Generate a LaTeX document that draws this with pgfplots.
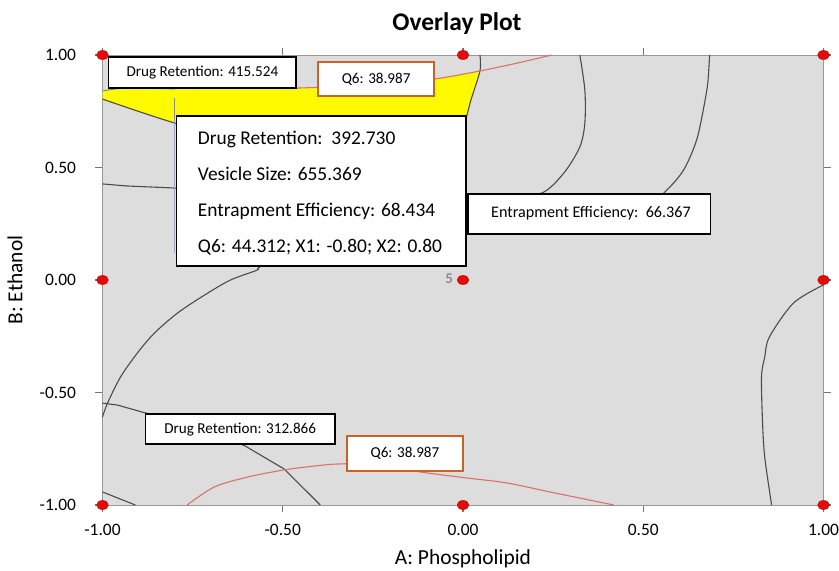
\documentclass[border=0pt]{standalone}
\usepackage{pgfplots}
\pgfplotsset{compat=1.18}
\usepackage{fontspec}
\setmainfont{Carlito}
\definecolor{plotbg}{RGB}{221,221,221}
\definecolor{contour}{RGB}{75,75,75}
\definecolor{qline}{RGB}{215,115,105}
\definecolor{qbox}{RGB}{200,100,35}
\definecolor{flag}{RGB}{160,165,200}
\definecolor{ptred}{RGB}{230,10,10}
\begin{document}
\begin{tikzpicture}
\path[use as bounding box] (3bp,0) rectangle (842bp,571bp);
\begin{axis}[
  at={(105.5bp,66bp)}, anchor=south west,
  scale only axis, width=721bp, height=450bp,
  xmin=-1, xmax=1, ymin=-1, ymax=1,
  clip=false,
  axis background/.style={fill=plotbg},
  axis line style={draw=black!40, line width=0.9pt},
  xtick={-1,-0.5,0,0.5,1}, xticklabels={-1.00,-0.50,0.00,0.50,1.00},
  ytick={-1,-0.5,0,0.5,1}, yticklabels={-1.00,-0.50,0.00,0.50,1.00},
  tick align=outside, major tick length=7bp,
  tick style={draw=black!55, line width=1.1pt},
  ticklabel style={font=\fontsize{17.5}{20}\selectfont},
  xticklabel style={yshift=-9bp},
  yticklabel style={xshift=-16bp},
]
% feasible (yellow) region
\addplot[fill={rgb,255:red,255;green,250;blue,0}, draw=none] coordinates {
 (-1,0.844) (-1,0.80) (-0.903,0.749) (-0.80,0.698) (-0.80,0.667)
 (0.011,0.667) (0.011,0.733) (0.022,0.80) (0.047,0.929)
 (-0.017,0.911) (-0.080,0.893) (-0.238,0.867) (-0.460,0.853)
 (-0.737,0.849) (-0.903,0.849) (-1,0.844)} -- cycle;
% contour lines
\addplot[contour, line width=1.1pt, smooth] coordinates {(-1,0.804) (-0.903,0.751) (-0.80,0.698) (-0.70,0.66)};
\addplot[contour!70, line width=0.9pt, smooth] coordinates {(-1,0.840) (-0.934,0.853) (-0.80,0.849)};
\addplot[contour, line width=1.1pt, smooth] coordinates {(0.047,1) (0.047,0.929) (0.022,0.80) (0.011,0.733) (-0.003,0.667)};
\addplot[contour, line width=1.1pt] coordinates {(-1,0.427) (-0.934,0.418) (-0.803,0.409) (-0.75,0.40)};
\addplot[contour, line width=1.1pt, smooth] coordinates {
 (-1.0,-0.609) (-0.986,-0.547) (-0.950,-0.431) (-0.903,-0.324) (-0.856,-0.236)
 (-0.792,-0.147) (-0.717,-0.067) (-0.645,0.0) (-0.571,0.044) (-0.551,0.067)
 (-0.321,0.2) (-0.044,0.333) (0.122,0.378) (0.219,0.387) (0.280,0.476)
 (0.324,0.591) (0.338,0.698) (0.338,0.844) (0.324,1.0)};
\addplot[contour, line width=1.1pt, smooth] coordinates {
 (0.482,0.289) (0.560,0.391) (0.612,0.489) (0.648,0.622) (0.668,0.769) (0.679,0.876) (0.684,1.0)};
\addplot[contour, line width=1.1pt, smooth] coordinates {
 (1.0,-0.022) (0.917,-0.102) (0.850,-0.253) (0.837,-0.342) (0.828,-0.431)
 (0.831,-0.636) (0.837,-0.787) (0.856,-1.0)};
\addplot[contour, line width=1.1pt] coordinates {
 (-1.0,-0.547) (-0.958,-0.556) (-0.881,-0.591) (-0.75,-0.64) (-0.604,-0.738) (-0.496,-0.840) (-0.396,-1.0)};
\addplot[contour, line width=1.1pt] coordinates {(-1,-0.942) (-0.909,-1.0)};
% Q6 contours
\addplot[qline, line width=1.1pt, smooth] coordinates {
 (0.247,1) (0.150,0.964) (0.047,0.929) (-0.080,0.893) (-0.24,0.867) (-0.46,0.853)};
\addplot[qline, line width=1.1pt, smooth] coordinates {
 (-0.765,-1.0) (-0.690,-0.920) (-0.598,-0.876) (-0.496,-0.844) (-0.413,-0.827)
 (-0.349,-0.818) (-0.238,-0.818) (-0.119,-0.853) (0.011,-0.880) (0.122,-0.902)
 (0.241,-0.942) (0.418,-1.0)};
% flag pointer
\addplot[black!45, line width=0.8pt] coordinates {(-0.80,0.809) (-0.80,0.698)};
\addplot[flag, line width=0.9pt] coordinates {(-0.80,0.72) (-0.80,0.12)};
% boxes
\draw[black, line width=1.6pt, fill=white] (axis cs:-0.983,0.991) rectangle (axis cs:-0.463,0.853);
\node[font=\fontsize{15.2}{18}\selectfont] at (axis cs:-0.723,0.922) {Drug Retention: 415.524};
\draw[qbox, line width=1.6pt, fill=white] (axis cs:-0.402,0.969) rectangle (axis cs:-0.080,0.818);
\node[font=\fontsize{15.2}{18}\selectfont] at (axis cs:-0.241,0.893) {Q6: 38.987};
\draw[black, line width=1.6pt, fill=white] (axis cs:-0.795,0.729) rectangle (axis cs:0.008,0.062);
\node[anchor=base west, font=\fontsize{19.5}{22}\selectfont] at (axis cs:-0.745,0.604) {Drug Retention:\ \ 392.730};
\node[anchor=base west, font=\fontsize{19.5}{22}\selectfont] at (axis cs:-0.745,0.444) {Vesicle Size: 655.369};
\node[anchor=base west, font=\fontsize{19.5}{22}\selectfont] at (axis cs:-0.745,0.284) {Entrapment Efficiency: 68.434};
\node[anchor=base west, font=\fontsize{19.5}{22}\selectfont] at (axis cs:-0.745,0.124) {Q6: 44.312; X1: -0.80; X2: 0.80};
\draw[black, line width=1.6pt, fill=white] (axis cs:0.014,0.382) rectangle (axis cs:0.687,0.204);
\node[font=\fontsize{16.2}{19}\selectfont] at (axis cs:0.355,0.295) {Entrapment Efficiency:\ \ 66.367};
\draw[black, line width=1.6pt, fill=white] (axis cs:-0.881,-0.596) rectangle (axis cs:-0.355,-0.729);
\node[font=\fontsize{15.2}{18}\selectfont] at (axis cs:-0.618,-0.664) {Drug Retention: 312.866};
\draw[qbox, line width=1.6pt, fill=white] (axis cs:-0.321,-0.693) rectangle (axis cs:0.0,-0.849);
\node[font=\fontsize{15.2}{18}\selectfont] at (axis cs:-0.161,-0.771) {Q6: 38.987};
% design points
\addplot[only marks, mark=*, mark size=4.5bp, mark options={xscale=1.3, fill=ptred, draw=ptred!80!black, line width=0.5pt}] coordinates {
 (-1,1) (0,1) (1,1) (-1,0) (0,0) (1,0) (-1,-1) (0,-1) (1,-1)};
\node[text=black!45, font=\fontsize{15}{18}\selectfont\bfseries, anchor=east] at (axis cs:-0.018,0.005) {5};
% title and axis labels
\node[font=\fontsize{25.5}{30}\selectfont\bfseries] at ([yshift=31bp,xshift=-6bp]rel axis cs:0.5,1) {Overlay Plot};
\node[font=\fontsize{21.5}{25}\selectfont] at ([yshift=-54bp]rel axis cs:0.5,0) {A: Phospholipid};
\node[font=\fontsize{21.5}{25}\selectfont, rotate=90] at ([xshift=-87.5bp]rel axis cs:0,0.5) {B: Ethanol};
\end{axis}
\end{tikzpicture}
\end{document}
